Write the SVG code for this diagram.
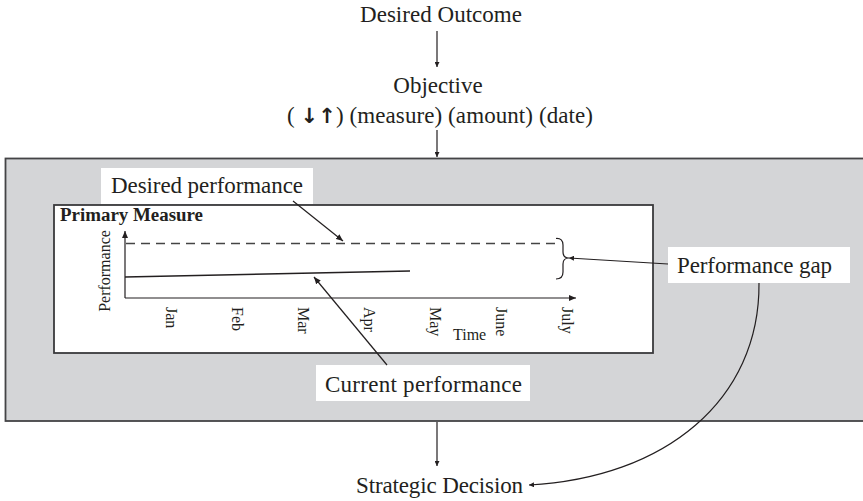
<svg xmlns="http://www.w3.org/2000/svg" width="863" height="501" viewBox="0 0 863 501">
<style>
text{font-family:"Liberation Serif","Times New Roman",serif;fill:#231f20}
.big{font-size:23px}
.sm{font-size:16px}
.ln{stroke:#231f20;stroke-width:1.2;fill:none}
.box{fill:#ffffff;stroke:none}
</style>
<defs>
<marker id="ah" markerUnits="userSpaceOnUse" markerWidth="8" markerHeight="6" refX="7" refY="3" orient="auto">
<path d="M0,0 L7,3 L0,6 Z" fill="#231f20"/>
</marker>
<marker id="ahs" markerUnits="userSpaceOnUse" markerWidth="6" markerHeight="5" refX="5" refY="2.5" orient="auto">
<path d="M0,0 L5,2.5 L0,5 Z" fill="#231f20"/>
</marker>
</defs>
<rect width="863" height="501" fill="#ffffff"/>
<g id="panel">
<rect x="5.5" y="158.5" width="870" height="262.5" fill="#d4d5d7" stroke="#444446" stroke-width="1.8"/>
</g>
<g id="chart">
<rect x="54" y="205" width="599" height="148" fill="#ffffff" stroke="#3a3a3c" stroke-width="1.8"/>
<text x="60" y="221" font-weight="bold" font-size="18.5" textLength="143" lengthAdjust="spacingAndGlyphs">Primary Measure</text>
<line class="ln" x1="125" y1="298" x2="125" y2="231" marker-end="url(#ah)"/>
<line class="ln" x1="125" y1="298" x2="576" y2="298" marker-end="url(#ah)"/>
<line x1="126" y1="243.5" x2="557" y2="243.5" stroke="#444" stroke-width="1.4" stroke-dasharray="9,6"/>
<line x1="125" y1="277" x2="410" y2="271" stroke="#231f20" stroke-width="1.4"/>
<path class="ln" d="M556,238.5 Q563,238 563,245 L563,252 Q563,258 569,258 Q563,258 563,264 L563,272 Q563,279 556,279"/>
<text class="sm" transform="translate(110,271) rotate(-90)" text-anchor="middle">Performance</text>
<text class="sm" transform="translate(166,307) rotate(90)">Jan</text>
<text class="sm" transform="translate(232,307) rotate(90)">Feb</text>
<text class="sm" transform="translate(298,307) rotate(90)">Mar</text>
<text class="sm" transform="translate(364,307) rotate(90)">Apr</text>
<text class="sm" transform="translate(430,307) rotate(90)">May</text>
<text class="sm" transform="translate(496,307) rotate(90)">June</text>
<text class="sm" transform="translate(562,307) rotate(90)">July</text>
<text class="sm" x="453" y="340">Time</text>
</g>
<g id="desired-outcome">
<text class="big" x="441" y="22" text-anchor="middle" textLength="162">Desired Outcome</text>
</g>
<g id="objective">
<text class="big" x="438" y="93" text-anchor="middle">Objective</text>
<text class="big" x="440" y="123" text-anchor="middle" textLength="306">( <tspan font-family="DejaVu Sans" font-weight="bold" font-size="21">↓↑</tspan>) (measure) (amount) (date)</text>
</g>
<g id="desired-performance">
<rect class="box" x="101" y="168" width="212" height="36"/>
<text class="big" x="111" y="193" textLength="192">Desired performance</text>
</g>
<g id="performance-gap">
<rect class="box" x="668" y="247" width="182" height="36"/>
<text class="big" x="677" y="273" textLength="155">Performance gap</text>
</g>
<g id="current-performance">
<rect class="box" x="316" y="365" width="214" height="36"/>
<text class="big" x="325" y="392" textLength="197">Current performance</text>
</g>
<g id="strategic-decision">
<text class="big" x="356" y="493" textLength="167">Strategic Decision</text>
</g>
<g id="connectors">
<line class="ln" x1="437" y1="31" x2="437" y2="67" marker-end="url(#ahs)"/>
<line class="ln" x1="437" y1="130" x2="437" y2="157" marker-end="url(#ahs)"/>
<line class="ln" x1="437" y1="422" x2="437" y2="466" marker-end="url(#ahs)"/>
<line class="ln" x1="293" y1="201" x2="343" y2="241" marker-end="url(#ah)"/>
<line class="ln" x1="387" y1="365" x2="314" y2="277" marker-end="url(#ah)"/>
<line class="ln" x1="668" y1="264" x2="569" y2="258" marker-end="url(#ahs)"/>
<path class="ln" d="M759,283 C760,400 665,478 529,485" marker-end="url(#ahs)"/>
</g>
</svg>
